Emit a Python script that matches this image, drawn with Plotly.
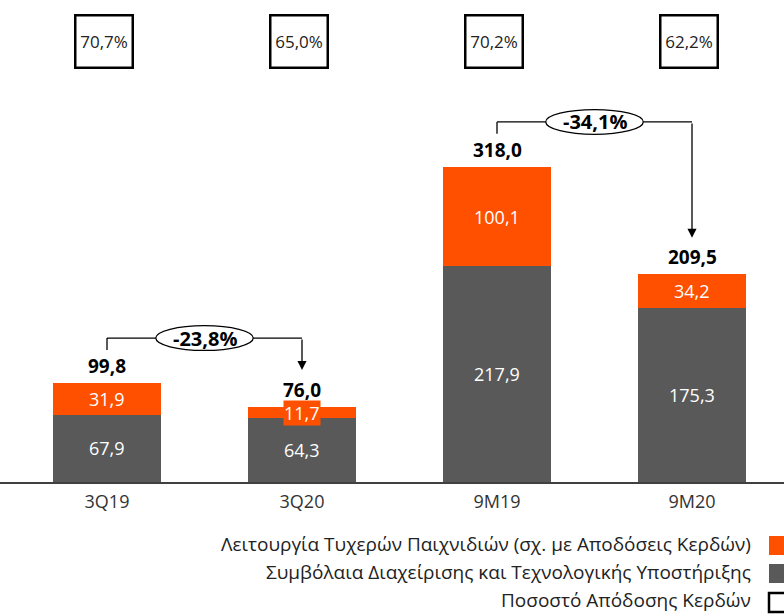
import plotly.graph_objects as go

categories = ["3Q19", "3Q20", "9M19", "9M20"]
contracts = [67.9, 64.3, 217.9, 175.3]      # Συμβόλαια Διαχείρισης...
gaming = [31.9, 11.7, 100.1, 34.2]           # Λειτουργία Τυχερών Παιχνιδιών
totals = [99.8, 76.0, 318.0, 209.5]
payout = ["70,7%", "65,0%", "70,2%", "62,2%"]
changes = [(0, 1, "-23,8%"), (2, 3, "-34,1%")]
legend_names = ["Λειτουργία Τυχερών Παιχνιδιών (σχ. με Αποδόσεις Κερδών)",
                "Συμβόλαια Διαχείρισης και Τεχνολογικής Υποστήριξης",
                "Ποσοστό Απόδοσης Κερδών"]

ORANGE = "#FF5000"
GRAY = "#595959"
FONT = "Open Sans"

def fmt(v):
    return f"{v:.1f}".replace(".", ",")

x = list(range(len(categories)))
fig = go.Figure()
fig.add_bar(x=x, y=contracts, marker_color=GRAY, marker_line_width=0, width=0.555, hoverinfo="skip")
fig.add_bar(x=x, y=gaming, marker_color=ORANGE, marker_line_width=0, width=0.555, hoverinfo="skip")

ann = []
shapes = []
for i in x:
    # segment labels
    ann.append(dict(x=i, y=contracts[i] / 2, text=fmt(contracts[i]), showarrow=False,
                    font=dict(color="white", size=18)))
    small = gaming[i] < 20
    ann.append(dict(x=i, y=contracts[i] + gaming[i] / 2, text=fmt(gaming[i]), showarrow=False,
                    font=dict(color="white", size=18),
                    bgcolor=ORANGE if small else None, borderpad=0))
    # totals
    ann.append(dict(x=i, y=totals[i], text="<b>" + fmt(totals[i]) + "</b>", showarrow=False,
                    yanchor="bottom", yshift=2, font=dict(color="black", size=19)))
    # payout boxes
    ann.append(dict(x=i, y=1, yref="paper", yanchor="top", yshift=-14, xshift=-3,
                    text=payout[i], showarrow=False, width=55, height=50,
                    bordercolor="black", borderwidth=2.5, borderpad=0,
                    font=dict(color="#222222", size=17)))

for a, b, label in changes:
    yb = totals[a] + 33.5
    yh = totals[a] + 45.5
    tip = totals[b] + 37
    shapes.append(dict(type="line", x0=a, x1=a, y0=yb, y1=yh, line=dict(color="black", width=1.3)))
    shapes.append(dict(type="line", x0=a, x1=b, y0=yh, y1=yh, line=dict(color="black", width=1.3)))
    shapes.append(dict(type="circle", x0=(a + b) / 2 - 0.25, x1=(a + b) / 2 + 0.25,
                       y0=yh - 12.5, y1=yh + 12.5, fillcolor="white",
                       line=dict(color="black", width=1.3)))
    ann.append(dict(x=b, y=tip, ax=b, ay=yh, axref="x", ayref="y", text="", showarrow=True,
                    arrowhead=2, arrowsize=1.4, arrowwidth=1.3, arrowcolor="black"))
    ann.append(dict(x=(a + b) / 2, y=yh, text="<b>" + label + "</b>", showarrow=False,
                    font=dict(color="black", size=20)))

# legend drawn manually (right aligned, swatches at the right edge)
H = 482.0
def py(p):
    return (H - p) / H

sw_colors = [ORANGE, GRAY, "white"]
text_y = [544, 572, 600]
box_y = [(536, 555), (564, 583), (593, 612)]
for name, ty, (b0, b1), col in zip(legend_names, text_y, box_y, sw_colors):
    ann.append(dict(x=752 / 784, y=py(ty), xref="paper", yref="paper", xanchor="right",
                    yanchor="middle", text=name, showarrow=False, borderpad=0,
                    font=dict(color="#222222", size=19)))
    shapes.append(dict(type="rect", xref="paper", yref="paper", x0=769 / 784, x1=1.03,
                       y0=py(b1), y1=py(b0), fillcolor=col,
                       line=dict(color="black" if col == "white" else col,
                                 width=2.5 if col == "white" else 0)))

fig.update_layout(
    width=784, height=614,
    margin=dict(l=0, r=0, t=0, b=132),
    barmode="stack", showlegend=False,
    plot_bgcolor="white", paper_bgcolor="white",
    font=dict(family=FONT, color="#222222"),
    annotations=ann, shapes=shapes,
)
fig.update_xaxes(range=[-107 / 195, 677 / 195], tickvals=x, ticktext=categories,
                 showgrid=False, zeroline=False, showline=True, linecolor="#404040",
                 linewidth=1.5, ticklabelstandoff=3, tickfont=dict(size=18, color="#333333"))
fig.update_yaxes(range=[0, 482 / 0.9906], visible=False)

fig.write_html("out.html", config={"displayModeBar": False},
               post_script="document.body.style.margin='0';document.body.style.overflow='hidden';")
